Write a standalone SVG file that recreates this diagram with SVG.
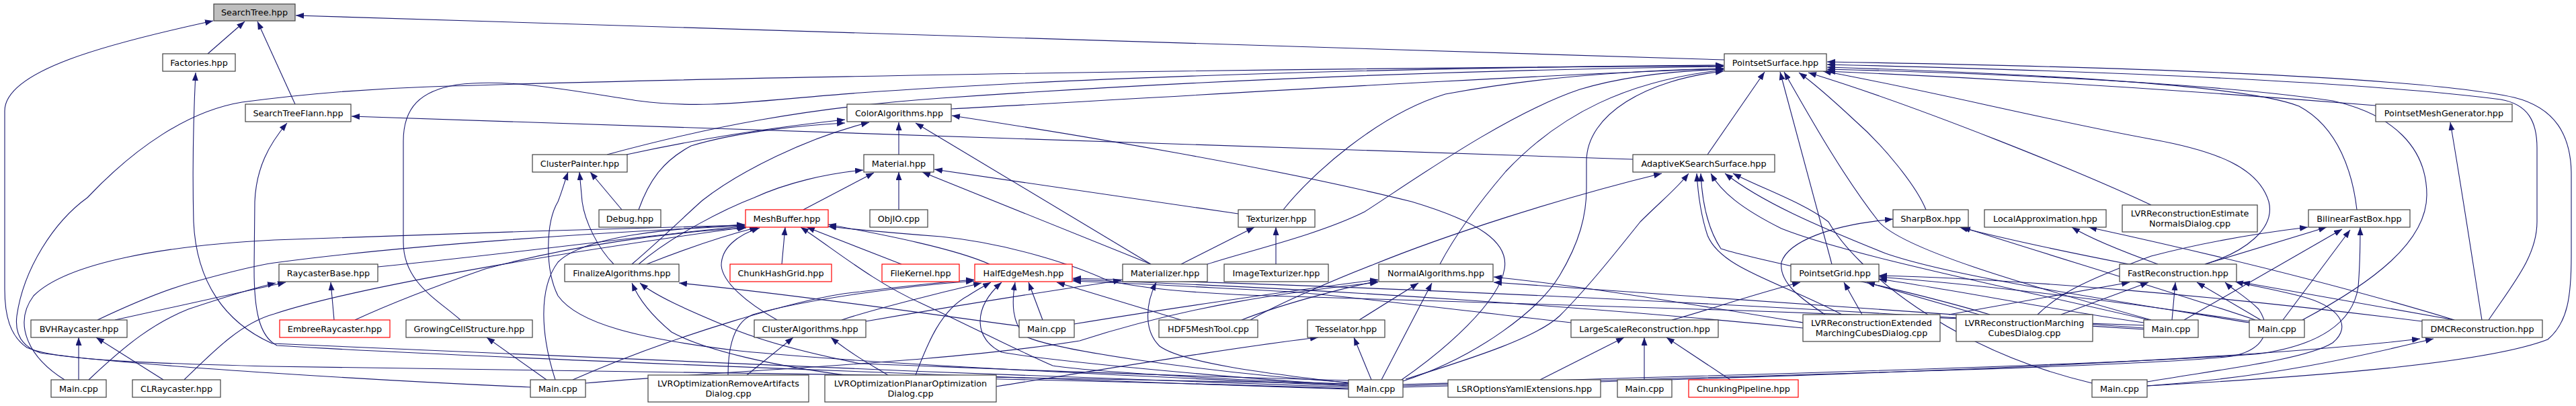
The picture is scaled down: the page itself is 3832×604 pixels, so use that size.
<svg xmlns="http://www.w3.org/2000/svg" width="3832" height="604" viewBox="0 0 3832 604">
<style>
.n rect{fill:#fff;stroke:#404040;stroke-width:1.2}
.r rect{stroke:#ff0000}
.root rect{fill:#bfbfbf}
text{font-family:"DejaVu Sans","Liberation Sans",sans-serif;font-size:12.8px;text-anchor:middle;fill:#000}
#edges path{fill:none;stroke:#191970;stroke-width:1.1;marker-end:url(#a)}
</style>
<defs>
<marker id="a" markerWidth="13" markerHeight="10" refX="12" refY="4.5" orient="auto" markerUnits="userSpaceOnUse">
<path d="M0,0 L12,4.5 L0,9 z" fill="#191970" stroke="none"/>
</marker>
</defs>
<rect width="3832" height="604" fill="#fff"/>
<g id="edges">
<path d="M309,80 L364,32"/>
<path d="M439,155 L383,32"/>
<path d="M2565,89 L440,23"/>
<path d="M2006,571 C1500,560 800,550 400,545 C200,540 80,535 40,517 C15,500 7,470 7,430 L7,165 C7,105 160,65 317,31"/>
<path d="M2006,576 C1500,558 700,528 405,511 C335,480 292,420 288,330 C286,250 288,170 291,108"/>
<path d="M2006,579 C1500,562 700,532 412,514 C385,500 378,460 378,400 L379,300 C381,250 400,215 427,183"/>
<path d="M2429,237 L523,173"/>
<path d="M903,230 C1050,190 1200,160 1400,146 C1800,118 2200,104 2564,99"/>
<path d="M685,476 C650,445 600,420 600,360 L600,210 C600,160 625,135 680,126 C760,116 850,135 950,150 C1050,163 1120,150 1280,138 C1600,115 2100,100 2564,97"/>
<path d="M1415,162 C1700,147 2200,115 2564,102"/>
<path d="M789,576 C600,568 200,545 60,525 C30,515 22,495 25,470 C35,400 80,330 130,294 C200,220 280,165 360,152 C450,140 550,132 640,129 C1000,117 1800,102 2564,98"/>
<path d="M1909,312 C1950,260 2050,170 2150,140 C2300,112 2450,104 2564,102"/>
<path d="M1796,393 C1850,375 1960,350 2030,315 C2100,270 2240,170 2350,133 C2420,112 2500,105 2564,103"/>
<path d="M2142,393 C2170,340 2210,290 2240,255 C2320,170 2420,120 2564,104"/>
<path d="M2087,567 C2200,530 2290,460 2320,410 C2350,360 2360,320 2360,280 L2360,240 C2360,170 2450,118 2564,106"/>
<path d="M2540,230 L2625,107"/>
<path d="M2725,393 L2648,107"/>
<path d="M3200,476 C3000,420 2830,370 2795,330 C2740,260 2690,170 2654,107"/>
<path d="M2865,312 C2850,275 2800,215 2760,180 C2730,152 2700,125 2676,108"/>
<path d="M3200,305 C3100,258 2860,160 2690,108"/>
<path d="M3280,393 C3340,375 3385,340 3375,300 C3360,250 3300,225 3200,207 C3050,180 2850,130 2712,106"/>
<path d="M3194,574 C3450,560 3700,540 3790,505 C3820,480 3825,440 3825,380 L3825,260 C3825,200 3800,160 3740,145 C3600,115 3200,100 2718,92"/>
<path d="M3702,476 C3740,420 3774,380 3774,330 L3774,220 C3774,180 3760,155 3720,148 C3500,120 3100,105 2718,96"/>
<path d="M3506,312 C3500,260 3480,190 3420,158 C3350,130 3100,112 2718,100"/>
<path d="M3425,476 C3530,420 3610,360 3610,290 C3610,220 3560,170 3470,150 C3300,125 3000,110 2718,103"/>
<path d="M3534,157 C3300,138 3000,118 2718,106"/>
<path d="M932,230 C1000,215 1100,195 1257,178"/>
<path d="M950,312 C965,270 985,240 1028,217 C1100,195 1200,186 1257,183"/>
<path d="M940,393 C990,350 1020,320 1045,298 C1100,255 1200,205 1293,182"/>
<path d="M1337,230 L1337,182"/>
<path d="M1712,393 L1362,183"/>
<path d="M2085,565 C2150,520 2230,450 2238,400 C2245,360 2200,330 2100,300 C1900,250 1600,200 1416,172"/>
<path d="M950,393 C1000,350 1080,310 1122,294 C1170,272 1230,258 1284,253"/>
<path d="M1195,312 L1300,257"/>
<path d="M1337,312 L1337,256"/>
<path d="M1712,393 L1372,256"/>
<path d="M1842,318 L1390,252"/>
<path d="M2006,574 C1700,560 1300,542 1100,522 C950,504 860,482 830,440 C810,400 812,330 830,300 C836,285 840,270 845,256"/>
<path d="M913,393 C890,370 870,330 866,300 L862,256"/>
<path d="M925,312 L878,256"/>
<path d="M1163,393 L1168,338"/>
<path d="M962,393 C1020,370 1080,350 1127,338"/>
<path d="M1156,476 C1110,450 1075,420 1073,395 C1073,370 1095,350 1130,339"/>
<path d="M826,565 C805,500 800,430 830,390 C870,350 1000,340 1108,334"/>
<path d="M96,565 C40,530 20,480 50,440 C100,390 250,365 408,357 C600,350 900,340 1108,335"/>
<path d="M145,476 C200,450 250,430 286,420 C340,405 380,395 408,391 C600,365 900,345 1108,336"/>
<path d="M562,397 C800,373 1000,345 1108,337"/>
<path d="M274,565 C320,520 360,480 408,467 C520,430 800,380 1109,338"/>
<path d="M528,476 C580,452 650,425 722,400 C850,365 1000,345 1110,339"/>
<path d="M1341,393 L1200,338"/>
<path d="M1472,393 C1420,370 1320,350 1232,334"/>
<path d="M2006,571 C1800,565 1600,550 1566,544 C1500,515 1443,485 1370,451 C1300,420 1240,370 1191,338"/>
<path d="M3189,484 C2800,470 2300,450 1920,441 C1800,438 1700,430 1647,417 C1600,395 1500,362 1400,352 C1320,346 1260,340 1232,337"/>
<path d="M1551,476 L1530,420"/>
<path d="M1252,476 C1300,460 1400,435 1460,421"/>
<path d="M1362,558 C1380,510 1400,461 1440,440 C1455,430 1465,425 1474,420"/>
<path d="M1083,558 C1083,520 1090,480 1120,468 C1200,445 1350,425 1449,418"/>
<path d="M852,565 C1000,500 1200,440 1280,434 C1350,425 1400,420 1449,416"/>
<path d="M1757,476 L1572,420"/>
<path d="M2006,573 C1800,560 1550,535 1490,524 C1450,505 1445,460 1490,420"/>
<path d="M2006,569 C1800,555 1560,520 1525,500 C1505,480 1505,450 1510,420"/>
<path d="M2337,480 C2200,465 2000,440 1920,434 C1800,428 1700,422 1596,418"/>
<path d="M2682,488 C2400,460 2000,430 1596,416"/>
<path d="M3189,490 C2800,465 2200,430 1596,414"/>
<path d="M1516,485 C1400,470 1200,440 1010,421"/>
<path d="M2006,578 C1600,565 1300,560 1280,561 C1150,545 1048,521 999,494 C970,470 950,445 940,421"/>
<path d="M2006,566 C1600,555 1400,545 1280,541 C1200,525 1130,507 1080,485 C1020,460 975,440 952,421"/>
<path d="M171,476 L425,420"/>
<path d="M132,565 C190,510 230,480 280,460 C340,440 380,428 410,421"/>
<path d="M497,476 L492,420"/>
<path d="M117,565 L117,502"/>
<path d="M243,565 L143,502"/>
<path d="M813,565 L724,502"/>
<path d="M1111,558 L1180,502"/>
<path d="M1321,558 C1300,545 1270,530 1236,502"/>
<path d="M1757,393 L1866,338"/>
<path d="M1898,393 L1898,338"/>
<path d="M2006,570 C1880,555 1760,540 1725,515 C1700,490 1705,450 1720,420"/>
<path d="M1288,478 C1450,450 1580,430 1668,417"/>
<path d="M2022,476 L2110,421"/>
<path d="M2055,565 L2130,421"/>
<path d="M1847,476 C1900,455 1990,430 2050,418"/>
<path d="M1598,482 C1700,465 1900,435 2050,416"/>
<path d="M871,570 C1100,550 1400,540 1606,507 C1770,454 1920,434 2050,420"/>
<path d="M2682,480 C2500,450 2350,425 2222,412"/>
<path d="M3189,488 C2800,460 2400,430 2222,420"/>
<path d="M2040,565 L2014,502"/>
<path d="M1482,575 C1700,540 1850,515 1961,502"/>
<path d="M2291,565 L2416,502"/>
<path d="M2446,565 L2446,502"/>
<path d="M2574,565 L2479,502"/>
<path d="M3172,394 C3100,380 3000,360 2915,338"/>
<path d="M3355,476 C3250,440 3050,380 2919,338"/>
<path d="M2715,468 C2680,445 2646,421 2650,390 C2660,360 2720,335 2816,326"/>
<path d="M3210,393 C3160,375 3110,355 3082,338"/>
<path d="M3651,476 C3500,430 3300,380 3107,338"/>
<path d="M3031,468 C3060,440 3091,421 3200,381 C3280,360 3350,348 3433,338"/>
<path d="M3280,393 L3461,338"/>
<path d="M3249,476 L3484,341"/>
<path d="M3396,476 L3496,342"/>
<path d="M2087,572 C2500,560 3100,545 3355,527 C3450,515 3500,480 3508,427 C3511,390 3511,370 3511,338"/>
<path d="M2770,468 L2743,420"/>
<path d="M2944,468 L2777,420"/>
<path d="M2487,476 C2530,465 2600,440 2678,420"/>
<path d="M3189,480 C3050,460 2900,430 2795,415"/>
<path d="M3346,478 C3100,440 2900,420 2795,412"/>
<path d="M3603,478 C3300,440 3000,415 2795,410"/>
<path d="M2899,468 L3168,420"/>
<path d="M3066,468 L3196,420"/>
<path d="M3231,476 L3236,420"/>
<path d="M3363,476 L3268,420"/>
<path d="M3651,476 L3335,420"/>
<path d="M2087,574 C2600,560 3200,545 3320,530 C3370,520 3380,490 3360,460 C3340,440 3320,430 3310,420"/>
<path d="M3194,568 C3300,550 3430,535 3470,510 C3500,485 3480,455 3420,440 C3380,430 3350,425 3325,419"/>
<path d="M2087,576 C2700,560 3300,540 3600,504"/>
<path d="M3194,574 C3400,560 3550,520 3620,504"/>
<path d="M3692,476 C3680,400 3665,300 3645,182"/>
<path d="M1860,476 C1900,452 2000,410 2042,394 C2150,350 2320,295 2472,258"/>
<path d="M2091,564 C2200,530 2287,501 2320,470 C2360,430 2400,380 2440,330 C2470,300 2495,280 2512,258"/>
<path d="M2740,468 C2650,420 2560,400 2540,350 C2530,320 2526,290 2524,258"/>
<path d="M2960,468 C2800,420 2620,390 2560,370 C2540,340 2532,300 2530,258"/>
<path d="M3205,478 C3000,430 2750,380 2650,340 C2590,310 2560,285 2545,258"/>
<path d="M3346,480 C3100,440 2900,410 2805,377 C2700,335 2620,300 2566,258"/>
<path d="M3112,570 C2900,520 2760,400 2720,330 C2680,300 2620,280 2578,258"/>
</g>
<g id="n_searchtree" class="n root"><rect x="318" y="6" width="121" height="25"/><text x="378.5" y="23">SearchTree.hpp</text></g>
<g id="n_factories" class="n"><rect x="242" y="80" width="108" height="26"/><text x="296" y="97.5">Factories.hpp</text></g>
<g id="n_pss" class="n"><rect x="2565" y="80" width="152" height="26"/><text x="2641" y="97.5">PointsetSurface.hpp</text></g>
<g id="n_stflann" class="n"><rect x="365" y="155" width="157" height="26"/><text x="443.5" y="172.5">SearchTreeFlann.hpp</text></g>
<g id="n_coloralgo" class="n"><rect x="1260" y="155" width="155" height="26"/><text x="1337.5" y="172.5">ColorAlgorithms.hpp</text></g>
<g id="n_pmgen" class="n"><rect x="3534" y="155" width="203" height="26"/><text x="3635.5" y="172.5">PointsetMeshGenerator.hpp</text></g>
<g id="n_clusterpainter" class="n"><rect x="792" y="230" width="141" height="26"/><text x="862.5" y="247.5">ClusterPainter.hpp</text></g>
<g id="n_material" class="n"><rect x="1285" y="230" width="104" height="26"/><text x="1337" y="247.5">Material.hpp</text></g>
<g id="n_adaptivek" class="n"><rect x="2429" y="230" width="211" height="26"/><text x="2534.5" y="247.5">AdaptiveKSearchSurface.hpp</text></g>
<g id="n_debug" class="n"><rect x="891" y="312" width="92" height="26"/><text x="937" y="329.5">Debug.hpp</text></g>
<g id="n_meshbuffer" class="n r"><rect x="1109" y="312" width="123" height="26"/><text x="1170.5" y="329.5">MeshBuffer.hpp</text></g>
<g id="n_objio" class="n"><rect x="1294" y="312" width="86" height="26"/><text x="1337" y="329.5">ObjIO.cpp</text></g>
<g id="n_texturizer" class="n"><rect x="1842" y="312" width="114" height="26"/><text x="1899" y="329.5">Texturizer.hpp</text></g>
<g id="n_sharpbox" class="n"><rect x="2816" y="312" width="112" height="26"/><text x="2872" y="329.5">SharpBox.hpp</text></g>
<g id="n_localapprox" class="n"><rect x="2952" y="312" width="181" height="26"/><text x="3042.5" y="329.5">LocalApproximation.hpp</text></g>
<g id="n_lvrest" class="n"><rect x="3157" y="305" width="201" height="40"/><text x="3257.5" y="321.5">LVRReconstructionEstimate</text><text x="3257.5" y="336.5">NormalsDialog.cpp</text></g>
<g id="n_bilinear" class="n"><rect x="3434" y="312" width="151" height="26"/><text x="3509.5" y="329.5">BilinearFastBox.hpp</text></g>
<g id="n_raycasterbase" class="n"><rect x="415" y="393" width="147" height="26"/><text x="488.5" y="410.5">RaycasterBase.hpp</text></g>
<g id="n_finalize" class="n"><rect x="840" y="393" width="170" height="26"/><text x="925" y="410.5">FinalizeAlgorithms.hpp</text></g>
<g id="n_chunkhashgrid" class="n r"><rect x="1086" y="393" width="151" height="26"/><text x="1161.5" y="410.5">ChunkHashGrid.hpp</text></g>
<g id="n_filekernel" class="n r"><rect x="1312" y="393" width="115" height="26"/><text x="1369.5" y="410.5">FileKernel.hpp</text></g>
<g id="n_hem" class="n r"><rect x="1450" y="393" width="145" height="26"/><text x="1522.5" y="410.5">HalfEdgeMesh.hpp</text></g>
<g id="n_materializer" class="n"><rect x="1670" y="393" width="126" height="26"/><text x="1733" y="410.5">Materializer.hpp</text></g>
<g id="n_imagetex" class="n"><rect x="1821" y="393" width="155" height="26"/><text x="1898.5" y="410.5">ImageTexturizer.hpp</text></g>
<g id="n_normalalgo" class="n"><rect x="2051" y="393" width="170" height="26"/><text x="2136" y="410.5">NormalAlgorithms.hpp</text></g>
<g id="n_pointsetgrid" class="n"><rect x="2664" y="393" width="131" height="26"/><text x="2729.5" y="410.5">PointsetGrid.hpp</text></g>
<g id="n_fastrecon" class="n"><rect x="3153" y="393" width="174" height="26"/><text x="3240" y="410.5">FastReconstruction.hpp</text></g>
<g id="n_bvh" class="n"><rect x="46" y="476" width="143" height="26"/><text x="117.5" y="493.5">BVHRaycaster.hpp</text></g>
<g id="n_embree" class="n r"><rect x="416" y="476" width="164" height="26"/><text x="498" y="493.5">EmbreeRaycaster.hpp</text></g>
<g id="n_gcs" class="n"><rect x="604" y="476" width="188" height="26"/><text x="698" y="493.5">GrowingCellStructure.hpp</text></g>
<g id="n_clusteralgo" class="n"><rect x="1122" y="476" width="166" height="26"/><text x="1205" y="493.5">ClusterAlgorithms.hpp</text></g>
<g id="n_main_he" class="n"><rect x="1516" y="476" width="82" height="26"/><text x="1557" y="493.5">Main.cpp</text></g>
<g id="n_hdf5" class="n"><rect x="1724" y="476" width="147" height="26"/><text x="1797.5" y="493.5">HDF5MeshTool.cpp</text></g>
<g id="n_tesselator" class="n"><rect x="1945" y="476" width="115" height="26"/><text x="2002.5" y="493.5">Tesselator.hpp</text></g>
<g id="n_lsr" class="n"><rect x="2337" y="476" width="219" height="26"/><text x="2446.5" y="493.5">LargeScaleReconstruction.hpp</text></g>
<g id="n_lvrext" class="n"><rect x="2682" y="468" width="204" height="40"/><text x="2784" y="484.5">LVRReconstructionExtended</text><text x="2784" y="499.5">MarchingCubesDialog.cpp</text></g>
<g id="n_lvrmarch" class="n"><rect x="2910" y="468" width="203" height="40"/><text x="3011.5" y="484.5">LVRReconstructionMarching</text><text x="3011.5" y="499.5">CubesDialog.cpp</text></g>
<g id="n_main_a" class="n"><rect x="3189" y="476" width="81" height="26"/><text x="3229.5" y="493.5">Main.cpp</text></g>
<g id="n_main_b" class="n"><rect x="3346" y="476" width="82" height="26"/><text x="3387" y="493.5">Main.cpp</text></g>
<g id="n_dmc" class="n"><rect x="3603" y="476" width="179" height="26"/><text x="3692.5" y="493.5">DMCReconstruction.hpp</text></g>
<g id="n_main_left" class="n"><rect x="76" y="565" width="82" height="26"/><text x="117" y="582.5">Main.cpp</text></g>
<g id="n_clraycaster" class="n"><rect x="197" y="565" width="131" height="26"/><text x="262.5" y="582.5">CLRaycaster.hpp</text></g>
<g id="n_main_gcs" class="n"><rect x="789" y="565" width="82" height="26"/><text x="830" y="582.5">Main.cpp</text></g>
<g id="n_lvroptremove" class="n"><rect x="964" y="558" width="239" height="40"/><text x="1083.5" y="574.5">LVROptimizationRemoveArtifacts</text><text x="1083.5" y="589.5">Dialog.cpp</text></g>
<g id="n_lvroptplanar" class="n"><rect x="1227" y="558" width="255" height="40"/><text x="1354.5" y="574.5">LVROptimizationPlanarOptimization</text><text x="1354.5" y="589.5">Dialog.cpp</text></g>
<g id="n_main_big" class="n"><rect x="2006" y="565" width="81" height="26"/><text x="2046.5" y="582.5">Main.cpp</text></g>
<g id="n_lsropts" class="n"><rect x="2154" y="565" width="227" height="26"/><text x="2267.5" y="582.5">LSROptionsYamlExtensions.hpp</text></g>
<g id="n_main_lsr" class="n"><rect x="2406" y="565" width="81" height="26"/><text x="2446.5" y="582.5">Main.cpp</text></g>
<g id="n_chunkingpipeline" class="n r"><rect x="2512" y="565" width="163" height="26"/><text x="2593.5" y="582.5">ChunkingPipeline.hpp</text></g>
<g id="n_main_r" class="n"><rect x="3112" y="565" width="82" height="26"/><text x="3153" y="582.5">Main.cpp</text></g>
</svg>
